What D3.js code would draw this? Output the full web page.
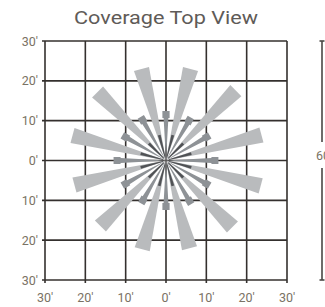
<!DOCTYPE html>
<html>
<head>
<meta charset="utf-8">
<script src="https://cdn.jsdelivr.net/npm/d3@7"></script>
<style>
  html, body { margin: 0; padding: 0; background: #fff; }
  svg { display: block; }
</style>
</head>
<body>
<svg id="chart" width="325" height="307"></svg>
<script>
// ---- data ----
const title = "Coverage Top View";
const tickValues = [-30, -20, -10, 0, 10, 20, 30];
const yTickLabels = ["30'", "20'", "10'", "0'", "10'", "20'", "30'"]; // top to bottom
const xTickLabels = ["30'", "20'", "10'", "0'", "10'", "20'", "30'"]; // left to right
// long light beams: angle (deg, ccw from east) and reach (ft)
const longAngles = [15, 45, 75, 105, 135, 165, 195, 225, 255, 285, 315, 345];
const longReach  = [24.5, 24.5, 23.5, 23.5, 24, 24, 23.5, 23, 22.8, 22.5, 23.3, 24.3];
// medium beams
const midAngles = [0, 30, 60, 90, 120, 150, 180, 210, 240, 270, 300, 330];
const midReach  = [13, 12.5, 12.3, 12.3, 12.5, 12.5, 13, 12.5, 12.3, 12.3, 12.5, 12.5];
// short dark beams
const shortAngles = [15, 45, 75, 105, 135, 165, 195, 225, 255, 285, 315, 345];
const shortReach  = [6.5, 6, 6.5, 6.5, 6, 6.5, 6.5, 6, 6.5, 6.5, 6, 6.5];
const bracketLabel = "60";

// ---- drawing ----
const svg = d3.select("#chart");
const x = d3.scaleLinear().domain([-30, 30]).range([45, 287]);
const y = d3.scaleLinear().domain([-30, 30]).range([280, 41]);
const cx = x(0), cy = y(0);
const pxPerFt = (x(30) - x(0)) / 30;

const labelColor = "#7a7264";
const font = "Roboto, 'Liberation Sans', sans-serif";

svg.append("text")
  .attr("x", 166).attr("y", 24)
  .attr("text-anchor", "middle")
  .attr("font-family", font)
  .attr("font-size", 19)
  .attr("fill", "#5f5b58")
  .attr("textLength", 184)
  .attr("lengthAdjust", "spacingAndGlyphs")
  .text(title);

// grid
const grid = svg.append("g").attr("stroke", "#34302e").attr("stroke-width", 1.6);
grid.selectAll("line.v").data(tickValues).join("line")
  .attr("x1", d => x(d)).attr("x2", d => x(d))
  .attr("y1", y(30)).attr("y2", y(-30) + 3);
grid.selectAll("line.h").data(tickValues).join("line")
  .attr("x1", x(-30) - 3).attr("x2", x(30))
  .attr("y1", d => y(d)).attr("y2", d => y(d));

// axis labels
svg.append("g").selectAll("text").data(tickValues.slice().reverse()).join("text")
  .attr("x", 38).attr("y", d => y(d) + 4.5)
  .attr("text-anchor", "end")
  .attr("font-family", font).attr("font-size", 12.5)
  .attr("fill", labelColor)
  .text((d, i) => yTickLabels[i]);
svg.append("g").selectAll("text").data(tickValues).join("text")
  .attr("x", d => x(d)).attr("y", 302)
  .attr("text-anchor", "middle")
  .attr("font-family", font).attr("font-size", 12.5)
  .attr("fill", labelColor)
  .text((d, i) => xTickLabels[i]);

function pt(a, r, off) {
  const rad = a * Math.PI / 180;
  const dx = Math.cos(rad), dy = -Math.sin(rad);
  const px = -dy, py = dx;
  return [cx + dx * r + px * off, cy + dy * r + py * off];
}
const line = d3.line();

// long light beams
svg.append("g").selectAll("path").data(longAngles).join("path")
  .attr("fill", "#b9bbbd")
  .attr("d", (a, i) => {
    const r = longReach[i] * pxPerFt;
    return line([pt(a, 0, 0), pt(a, r, -7.8), pt(a, r, 7.8)]) + "Z";
  });

// medium beams
svg.append("g").selectAll("path").data(midAngles).join("path")
  .attr("fill", "#8e9296")
  .attr("d", (a, i) => {
    const r = midReach[i] * pxPerFt;
    const s = r - 7;
    return line([pt(a, 0, 0), pt(a, s, -2.4), pt(a, s, -3.6), pt(a, r, -3.6),
                 pt(a, r, 3.6), pt(a, s, 3.6), pt(a, s, 2.4)]) + "Z";
  });

// short dark beams
svg.append("g").selectAll("path").data(shortAngles).join("path")
  .attr("fill", "#505255")
  .attr("d", (a, i) => {
    const r = shortReach[i] * pxPerFt;
    return line([pt(a, 3, -0.4), pt(a, r, -1.4), pt(a, r, 1.4), pt(a, 3, 0.4)]) + "Z";
  });

// right bracket
const bx = 322;
const br = svg.append("g").attr("stroke", "#4a4745").attr("stroke-width", 1.6);
br.append("line").attr("x1", bx).attr("x2", bx).attr("y1", y(30)).attr("y2", 142);
br.append("line").attr("x1", bx - 2.5).attr("x2", bx + 2.5).attr("y1", y(30)).attr("y2", y(30));
br.append("line").attr("x1", bx).attr("x2", bx).attr("y1", 168).attr("y2", y(-30));
br.append("line").attr("x1", bx - 2.5).attr("x2", bx + 2.5).attr("y1", y(-30)).attr("y2", y(-30));
svg.append("text")
  .attr("x", 316).attr("y", 160)
  .attr("font-family", font).attr("font-size", 12.5)
  .attr("fill", labelColor)
  .text(bracketLabel);
</script>
</body>
</html>
